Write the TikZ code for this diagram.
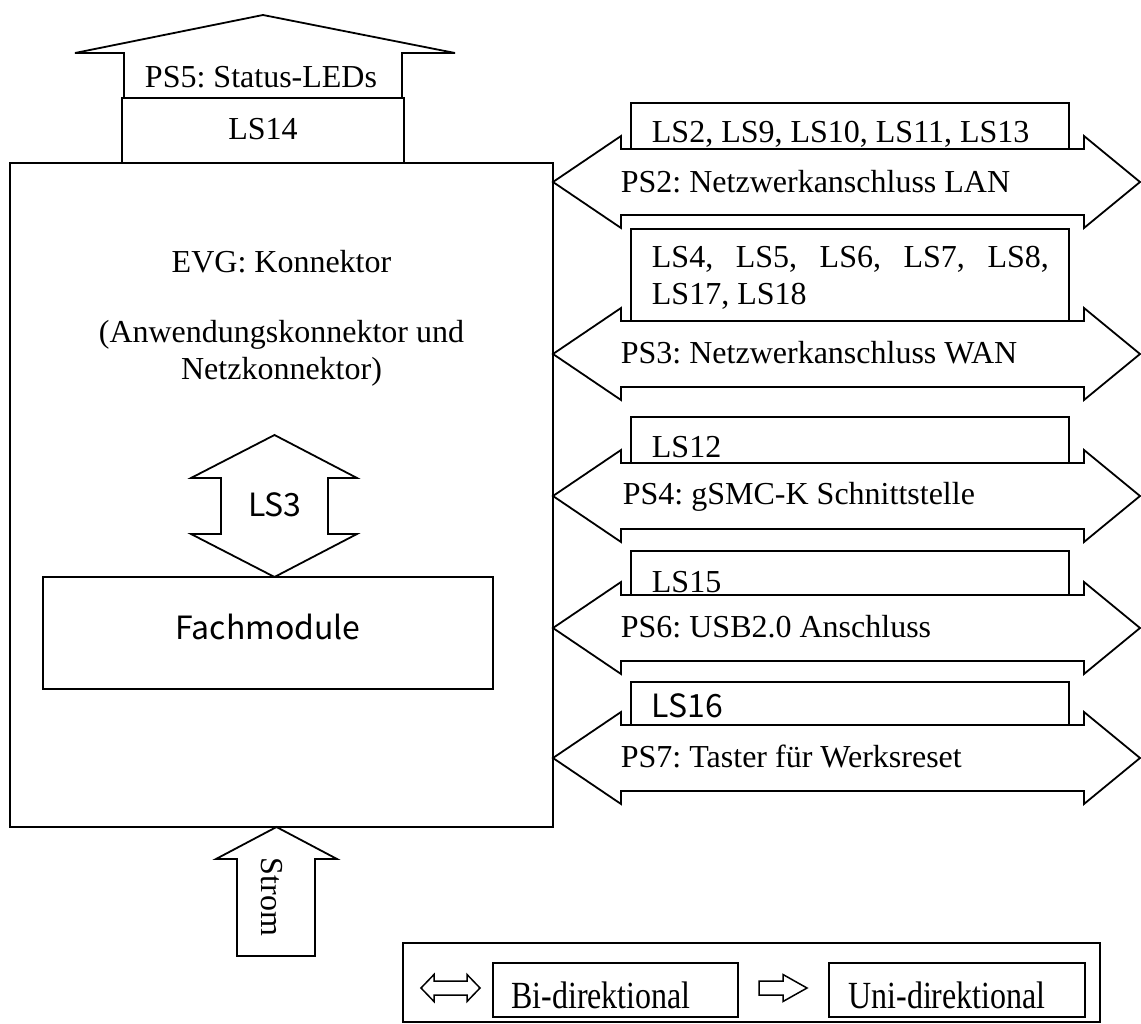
\documentclass[tikz,border=0pt]{standalone}
\usepackage{graphicx}
\usepackage{fontspec}
\setmainfont{Liberation Serif}
\newfontfamily\gothic{Noto Sans CJK JP}
\frenchspacing
\begin{document}
\begin{tikzpicture}[x=1pt,y=-1pt,line width=1.8pt,line join=miter,
  txt/.style={inner sep=0pt,font=\fontsize{32}{36}\selectfont},
  gtxt/.style={inner sep=0pt,font=\gothic\fontsize{32}{36}\selectfont},
  blk/.style={draw=black,fill=white}]
\useasboundingbox (0,0) rectangle (1141,1024);

% main box
\draw[blk] (10,163) rectangle (553,827);
% PS5 up arrow and LS14 box
\draw[blk] (263,15) -- (455,53) -- (402,53) -- (402,98) -- (124,98) -- (124,53) -- (75,53) -- cycle;
\draw[blk] (122,98) rectangle (404,163);
\node[txt,anchor=base] (ps5) at (261,88) {PS5: Status-LEDs};
\node[txt,anchor=base] (ls14) at (263,140) {LS14};

% main text
\node[txt,anchor=base] (evg) at (281.5,273) {EVG: Konnektor};
\node[txt,anchor=base] (anw) at (281.5,343) {(Anwendungskonnektor und};
\node[txt,anchor=base] (netz) at (281.5,379) {Netzkonnektor)};

% LS3 double arrow
\draw[blk] (274.5,435) -- (357,478) -- (328,478) -- (328,534) -- (357,534) -- (274.5,577)
  -- (191,534) -- (221,534) -- (221,478) -- (191,478) -- cycle;
\node[gtxt,anchor=base] (ls3) at (275,516) {LS3};

% Fachmodule
\draw[blk] (43,577) rectangle (493,689);
\node[gtxt,anchor=base] (fach) at (268,639) {Fachmodule};

% Strom arrow
\draw[blk] (276.5,827) -- (337,859) -- (315,859) -- (315,956) -- (237,956) -- (237,859) -- (216,859) -- cycle;
\node[txt,rotate=-90] (strom) at (272,897) {Strom};

% right side interfaces
\foreach \t/\c in {103/182, 229/354, 417/496, 551/628, 682/758} {
  \draw[blk] (631,\t) rectangle (1069,\c);
  \draw[blk] (553,\c) -- (621,{\c-46}) -- (621,{\c-33}) -- (1084,{\c-33}) -- (1084,{\c-46})
    -- (1140,\c) -- (1084,{\c+46}) -- (1084,{\c+33}) -- (621,{\c+33}) -- (621,{\c+46}) -- cycle;
}
\node[txt,anchor=base west] (ls2) at (651,143) {LS2, LS9, LS10, LS11, LS13};
\node[txt,anchor=base west] (ps2) at (620,193) {PS2: Netzwerkanschluss LAN};
\node[txt,anchor=base west] (ls4a) at (651,268) {\makebox[397pt][s]{LS4, LS5, LS6, LS7, LS8,}};
\node[txt,anchor=base west] (ls4b) at (651,305) {LS17, LS18};
\node[txt,anchor=base west] (ps3) at (620,363) {PS3: Netzwerkanschluss WAN};
\node[txt,anchor=base west] (ls12) at (651,457) {LS12};
\node[txt,anchor=base west] (ps4) at (622,504) {PS4: gSMC-K Schnittstelle};
\node[txt,anchor=base west] (ls15) at (651,592) {LS15};
\node[txt,anchor=base west] (ps6) at (620,637) {PS6: USB2.0 Anschluss};
\node[gtxt,anchor=base west] (ls16) at (651,717) {LS16};
\node[txt,anchor=base west] (ps7) at (620,767) {PS7: Taster für Werksreset};

% legend
\begin{scope}[line width=1.5pt]
\draw[blk] (403,943) rectangle (1100,1022);
\draw[blk] (421,988) -- (434,974.5) -- (434,981) -- (467,981) -- (467,974.5) -- (480,988)
  -- (467,1001.5) -- (467,995) -- (434,995) -- (434,1001.5) -- cycle;
\draw[blk] (493,963) rectangle (738,1017);
\draw[blk] (759,981) -- (783,981) -- (783,974.5) -- (807,988) -- (783,1001.5) -- (783,995) -- (759,995) -- cycle;
\draw[blk] (829,963) rectangle (1085,1017);
\end{scope}
\node[txt,anchor=base] (bi) at (601,1008) {\scalebox{1}[1.2]{Bi-direktional}};
\node[txt,anchor=base] (uni) at (947,1008) {\scalebox{1}[1.2]{Uni-direktional}};
\end{tikzpicture}
\end{document}
